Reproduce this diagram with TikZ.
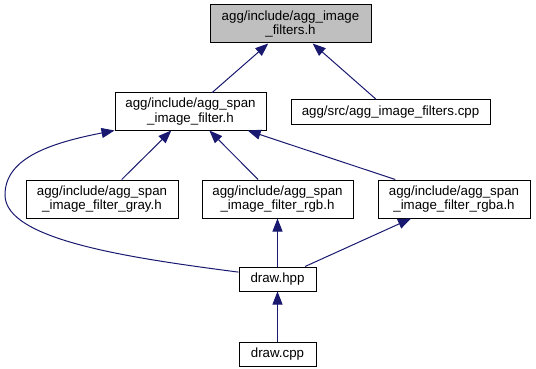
\documentclass[tikz,border=0pt]{standalone}
\usepackage{fontspec}
\setmainfont{Liberation Sans}
\usetikzlibrary{positioning,arrows.meta}
\definecolor{EdgeNavy}{RGB}{25,25,112}
\definecolor{HeadGray}{RGB}{191,191,191}

\tikzset{
	filebox/.style={
		draw=black,
		fill=white,
		line width=1pt,
		align=center,
		inner sep=1pt,
		minimum height=24pt,
		font=\fontsize{13.3}{14.5}\selectfont
	},
	incl/.style={
		EdgeNavy,
		line width=1pt,
		-{Triangle[length=13pt,width=10pt]}
	}
}

\begin{document}
\begin{tikzpicture}[x=1pt,y=-1pt]
	
	\useasboundingbox (0,0) rectangle (536,369);
	
	% header and its direct users
	\node[filebox, fill=HeadGray, minimum width=161pt, minimum height=38pt]
	at (290.5,24)
	(T)
	{agg/include/agg\_image\\\_filters.h};
	
	\node[filebox, minimum width=151pt, minimum height=37pt,
	below=49pt of T, xshift=-100pt]
	(S)
	{agg/include/agg\_span\\\_image\_filter.h};
	
	\node[filebox, minimum width=199pt,
	below=56pt of T, xshift=100pt]
	(C)
	{agg/src/agg\_image\_filters.cpp};
	
	% span filter variants
	\node[filebox, minimum width=152pt, minimum height=38pt,
	below=49pt of S, xshift=-88.5pt]
	(G)
	{agg/include/agg\_span\\\_image\_filter\_gray.h};
	
	\node[filebox, minimum width=151pt, minimum height=38pt,
	below=49pt of S, xshift=87pt]
	(R)
	{agg/include/agg\_span\\\_image\_filter\_rgb.h};
	
	\node[filebox, minimum width=152pt, minimum height=38pt,
	below=49pt of S, xshift=263.5pt]
	(A)
	{agg/include/agg\_span\\\_image\_filter\_rgba.h};
	
	% drawing sources
	\node[filebox, minimum width=77pt, below=48pt of R]
	(H)
	{draw.hpp};
	
	\node[filebox, minimum width=77pt, below=50pt of H]
	(D)
	{draw.cpp};
	
	\draw[incl] (S) -- (T);
	\draw[incl] (C) -- (T);
	\draw[incl] (G) -- (S);
	\draw[incl] (R) -- (S);
	\draw[incl] (A) -- (S);
	\draw[incl] (H) -- (R);
	\draw[incl] (H) -- (A);
	\draw[incl] (D) -- (H);
	\draw[incl] (H.170) .. controls (130,258) and (5,240) .. (5,195)
	.. controls (5,160) and (45,144) .. (S.south west);
	
\end{tikzpicture}
\end{document}
